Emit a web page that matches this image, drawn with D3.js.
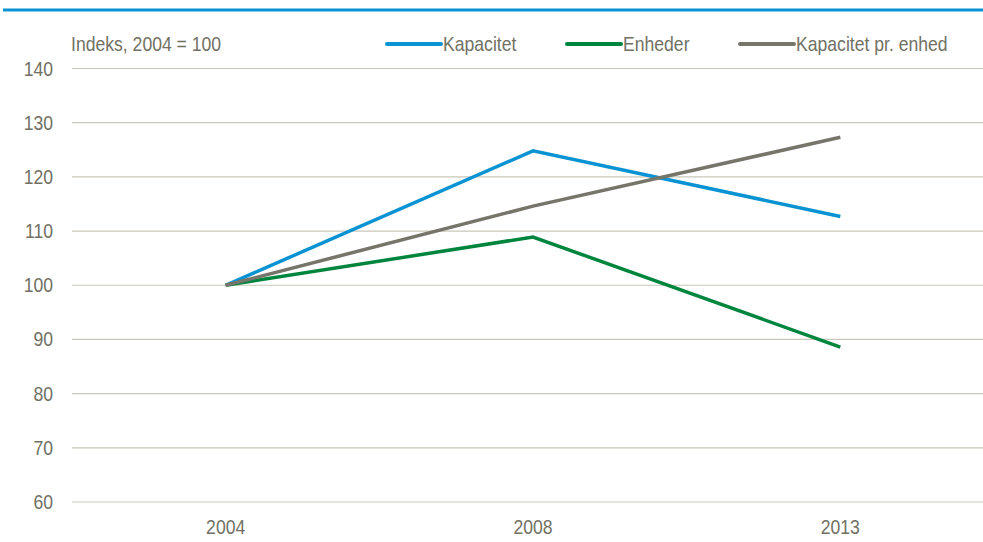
<!DOCTYPE html>
<html>
<head>
<meta charset="utf-8">
<script src="https://d3js.org/d3.v7.min.js"></script>
<style>
  body { margin: 0; background: #fff; }
  svg text { font-family: "Liberation Sans", Arial, sans-serif; fill: #717164; }
</style>
</head>
<body>
<svg id="chart"></svg>
<script>
const years = ["2004", "2008", "2013"];
const kapacitet = [100, 124.8, 112.7];
const enheder = [100, 108.9, 88.6];
const kapPrEnhed = [100, 114.6, 127.3];
const yTicks = [60, 70, 80, 90, 100, 110, 120, 130, 140];

const seriesNames = ["Kapacitet", "Enheder", "Kapacitet pr. enhed"];
const seriesValues = [kapacitet, enheder, kapPrEnhed];
const colors = ["#0a93d3", "#00853e", "#76756a"];

const width = 983, height = 542;
const margin = {top: 68.5, right: 0, bottom: 40, left: 72};
const narrow = 0.88; // squeeze text, the original uses a condensed face
const fs = 20;

const svg = d3.select("#chart").attr("width", width).attr("height", height);

// top rule
svg.append("line")
    .attr("x1", 3).attr("x2", width)
    .attr("y1", 10).attr("y2", 10)
    .attr("stroke", "#0a93d3").attr("stroke-width", 3);

const xscale = d3.scalePoint()
    .domain(years)
    .range([margin.left, 994])
    .padding(0.5);

const yscale = d3.scaleLinear()
    .domain([60, 140])
    .range([502, margin.top]);

// grid
svg.append("g").selectAll("line")
    .data(yTicks)
    .join("line")
    .attr("x1", margin.left).attr("x2", width)
    .attr("y1", d => yscale(d)).attr("y2", d => yscale(d))
    .attr("stroke", "#c9c7b9").attr("stroke-width", 1.2);

// y labels
svg.append("g").selectAll("text")
    .data(yTicks)
    .join("text")
    .attr("transform", d => `translate(53, ${yscale(d) + 7}) scale(${narrow}, 1)`)
    .attr("text-anchor", "end")
    .attr("font-size", fs)
    .text(d => d);

// x labels
svg.append("g").selectAll("text")
    .data(years)
    .join("text")
    .attr("transform", d => `translate(${xscale(d)}, 534) scale(${narrow}, 1)`)
    .attr("text-anchor", "middle")
    .attr("font-size", fs)
    .text(d => d);

svg.append("text")
    .attr("transform", `translate(71, 51) scale(${narrow}, 1)`)
    .attr("font-size", fs)
    .text("Indeks, 2004 = 100");

const line = d3.line()
    .x((d, i) => xscale(years[i]))
    .y(d => yscale(d));

seriesValues.forEach((vals, k) => {
    svg.append("path")
        .attr("d", line(vals))
        .attr("fill", "none")
        .attr("stroke", colors[k])
        .attr("stroke-width", 3.5)
        .attr("stroke-linejoin", "miter");
});

// legend
const legendX = [387, 567, 740];
seriesNames.forEach((name, k) => {
    const g = svg.append("g").attr("transform", `translate(${legendX[k]}, 44)`);
    g.append("line")
        .attr("x1", 0).attr("x2", 54)
        .attr("stroke", colors[k]).attr("stroke-width", 4)
        .attr("stroke-linecap", "round");
    g.append("text")
        .attr("transform", `translate(56, 7) scale(${narrow}, 1)`)
        .attr("font-size", fs)
        .text(name);
});
</script>
</body>
</html>
